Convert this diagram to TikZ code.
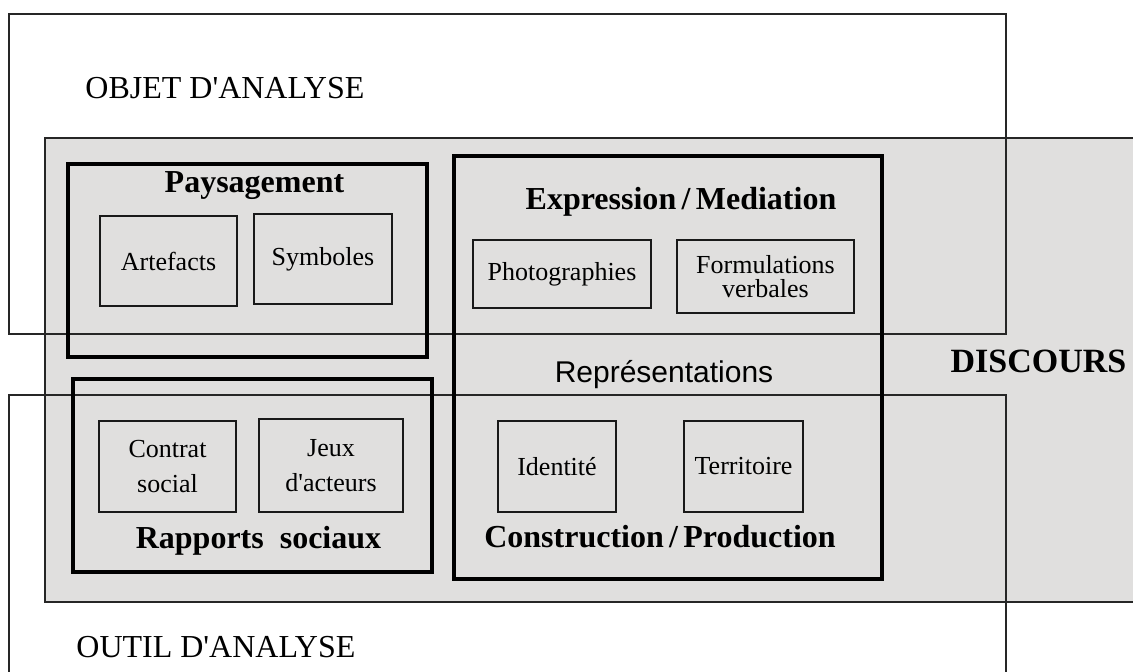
\documentclass[tikz,border=0pt]{standalone}
\usepackage{fontspec}
\setmainfont{Liberation Serif}[Ligatures=TeXOff]
\newfontfamily\reprfont{Liberation Sans}
\definecolor{discoursgray}{RGB}{224,223,222}
\tikzset{
	frame/.style={draw=black!85, line width=0.65pt},
	bigbox/.style={draw=black, line width=1.7pt, inner sep=0pt},
	smallbox/.style={draw=black!90, line width=0.65pt, inner sep=0pt, align=center, font=\fontsize{13}{17.5}\selectfont},
	title/.style={anchor=base, inner sep=0pt, font=\fontsize{16}{19}\selectfont\bfseries},
	zone/.style={anchor=base west, inner sep=0pt, font=\fontsize{16}{19}\selectfont}
}

\begin{document}
\begin{tikzpicture}[x=0.5pt, y=-0.5pt]
			%%%%% START %%%%%
			\useasboundingbox (0, 0) rectangle (1133, 672);
			\clip (0, 0) rectangle (1133, 672);
			
			\fill[white] (0, 0) rectangle (1133, 672);
			\draw[frame, fill=discoursgray] (45, 138) rectangle (1145, 602);
			
			\draw[frame] (9, 14) rectangle (1006, 334);
			\draw[frame] (9, 395) rectangle (1006, 700);
			
			\node[zone] (objet) at (85, 99) {OBJET D'ANALYSE};
			\node[zone] (outil) at (76, 657) {OUTIL D'ANALYSE};
			\node[title, font=\fontsize{17}{20}\selectfont\bfseries] (discours) at (1038.5, 373) {DISCOURS};
			
			\node[bigbox, minimum width=179.5pt, minimum height=96.5pt] (paysbox) at (247.5, 260.5) {};
			\node[title] (pays) at (254.5, 193) {Paysagement};
			\node[smallbox, minimum width=68.5pt, minimum height=45pt] (artefacts) at (168.5, 261) {Artefacts};
			\node[smallbox, minimum width=69pt, minimum height=45pt] (symboles) at (323, 259) {Symboles};
			
			\node[bigbox, minimum width=179.5pt, minimum height=96.5pt] (rappbox) at (252.5, 475.5) {};
			\node[title] (rapp) at (258.5, 548) {Rapports\ \ sociaux};
			\node[smallbox, minimum width=68.5pt, minimum height=45.5pt] (contrat) at (167.5, 466.5) {Contrat\\social};
			\node[smallbox, minimum width=72pt, minimum height=46.5pt] (jeux) at (331, 465.5) {Jeux\\d'acteurs};
			
			\node[bigbox, minimum width=214pt, minimum height=211.5pt] (reprbox) at (668, 367.5) {};
			\node[title] (expr) at (681, 210) {Expression\,/\,Mediation};
			\node[smallbox, minimum width=89pt, minimum height=34pt] (photo) at (562, 274) {Photographies};
			\node[smallbox, minimum width=88.5pt, minimum height=36.5pt, font=\fontsize{13}{12}\selectfont] (formul) at (765.5, 276.5) {Formulations\\verbales};
			\node[anchor=base, inner sep=0pt, font=\reprfont\fontsize{15}{18}\selectfont] (repr) at (664, 383) {Représentations};
			\node[smallbox, minimum width=59pt, minimum height=45.5pt] (identite) at (557, 466.5) {Identité};
			\node[smallbox, minimum width=59.5pt, minimum height=45.5pt] (territoire) at (743.5, 466.5) {Territoire};
			\node[title] (constr) at (660, 547) {Construction\,/\,Production};
			
			%%%%% END %%%%%
\end{tikzpicture}
\end{document}
